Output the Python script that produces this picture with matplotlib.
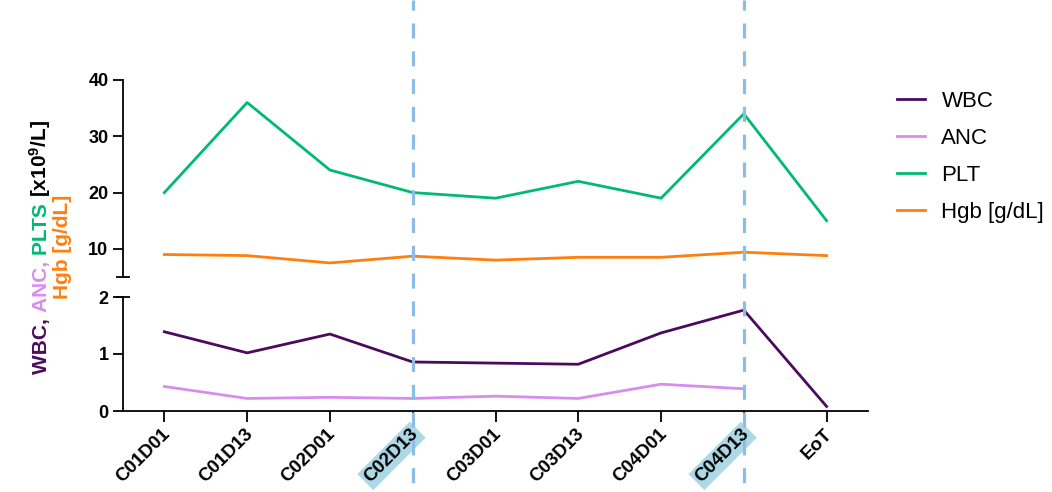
import matplotlib
matplotlib.use("Agg")
import matplotlib.pyplot as plt
import matplotlib.transforms as mtransforms
from matplotlib.lines import Line2D

plt.rcParams['font.family'] = ['Liberation Sans', 'DejaVu Sans']
plt.rcParams['mathtext.fontset'] = 'custom'
plt.rcParams['mathtext.rm'] = 'Liberation Sans:bold'
plt.rcParams['mathtext.bf'] = 'Liberation Sans:bold'
plt.rcParams['mathtext.it'] = 'Liberation Sans:bold'

visits = ["C01D01", "C01D13", "C02D01", "C02D13", "C03D01",
          "C03D13", "C04D01", "C04D13", "EoT"]
wbc = [1.39, 1.02, 1.35, 0.86, 0.84, 0.82, 1.37, 1.77, 0.08]
anc = [0.43, 0.22, 0.24, 0.22, 0.26, 0.22, 0.47, 0.39]
plt_counts = [20, 36, 24, 20, 19, 22, 19, 34, 15]
hgb = [9.0, 8.8, 7.5, 8.7, 8.0, 8.5, 8.5, 9.4, 8.8]
highlighted = ["C02D13", "C04D13"]

series_colors = {
    "WBC": "#4b0a5c",
    "ANC": "#d98cf0",
    "PLT": "#00ba72",
    "Hgb [g/dL]": "#ff7f0e",
}
marker_color = "#8bbde6"

W, H, DPI = 1052, 492, 100
fig = plt.figure(figsize=(W / DPI, H / DPI), dpi=DPI)

left_px, right_px = 123, 868
top_px, brk_top_px = 80, 277
brk_bot_px, bottom_px = 297, 411


def add_axes(y0, y1):
    return fig.add_axes([left_px / W, (H - y1) / H,
                         (right_px - left_px) / W, (y1 - y0) / H])


ax_top = add_axes(top_px, brk_top_px)
ax_bot = add_axes(brk_bot_px, bottom_px)

x = list(range(len(visits)))
lw = 2.0
for ax in (ax_top, ax_bot):
    ax.plot(x, wbc, color=series_colors["WBC"], lw=lw, label="WBC")
    ax.plot(x[:len(anc)], anc, color=series_colors["ANC"], lw=lw, label="ANC")
    ax.plot(x, plt_counts, color=series_colors["PLT"], lw=lw, label="PLT")
    ax.plot(x, hgb, color=series_colors["Hgb [g/dL]"], lw=lw, label="Hgb [g/dL]")
    ax.set_xlim(-0.5, len(visits) - 0.5)
    ax.spines[["top", "right"]].set_visible(False)
    ax.spines["left"].set_linewidth(1.3)
    ax.spines["bottom"].set_linewidth(1.3)
    ax.tick_params(axis="y", length=7, width=1.3, pad=3.5)

ax_top.set_ylim(5, 40)
ax_top.set_yticks([10, 20, 30, 40])
ax_top.set_yticklabels(["10", "20", "30", "40"], fontweight="bold", fontsize=13)
ax_top.spines["bottom"].set_visible(False)
ax_top.set_xticks([])

ax_bot.set_ylim(0, 2)
ax_bot.set_yticks([0, 1, 2])
ax_bot.set_yticklabels(["0", "1", "2"], fontweight="bold", fontsize=13)
ax_bot.set_xticks(x)
ax_bot.set_xticklabels(visits, fontweight="bold", fontsize=13.5)
ax_bot.tick_params(axis="x", length=8, width=1.3, pad=4)
shift = mtransforms.ScaledTranslation(3 / DPI, -4 / DPI, fig.dpi_scale_trans)
for lab in ax_bot.get_xticklabels():
    lab.set_rotation(45)
    lab.set_rotation_mode("anchor")
    lab.set_ha("right")
    lab.set_va("center")
    lab.set_transform(lab.get_transform() + shift)
    if lab.get_text() in highlighted:
        lab.set_bbox(dict(facecolor="#add8e6", edgecolor="none", pad=2.0))

# axis-break marks on the left spine
for ax, yy in ((ax_top, 0), (ax_bot, 1)):
    ax.plot([0], [yy], marker="_", markersize=10, mew=1.3, color="black",
            transform=ax.transAxes, clip_on=False)

# dashed markers spanning the full figure height
trans = mtransforms.blended_transform_factory(ax_bot.transData, fig.transFigure)
for name in highlighted:
    xi = visits.index(name)
    ln = Line2D([xi, xi], [1, 0], transform=trans, color=marker_color,
                lw=2.3, linestyle=(1.5, (4.7, 4.0)), zorder=10)
    fig.add_artist(ln)

# legend
handles, labels = ax_bot.get_legend_handles_labels()
fig.legend(handles, labels, loc="upper left",
           bbox_to_anchor=(877 / W, (H - 71) / H), frameon=False,
           fontsize=16, handlelength=1.25, handletextpad=0.75,
           labelspacing=0.72)

# multicoloured y-axis title, built from rotated pieces
fig.canvas.draw()
renderer = fig.canvas.get_renderer()
ident = mtransforms.IdentityTransform()


def stacked_title(pieces, x_base, y_center, fs=15):
    texts = []
    for s, c in pieces:
        t = fig.text(0, 0, s, color=c, fontsize=fs, fontweight="bold",
                     rotation=90, rotation_mode="anchor",
                     ha="left", va="baseline", transform=ident)
        texts.append(t)
    lengths = [t.get_window_extent(renderer).height for t in texts]
    y = y_center - sum(lengths) / 2
    for t, L in zip(texts, lengths):
        t.set_position((x_base, y))
        y += L


stacked_title([("WBC, ", series_colors["WBC"]),
               ("ANC, ", series_colors["ANC"]),
               ("PLTS ", series_colors["PLT"]),
               (r"[x10$^{9}$/L]", "black")],
              x_base=47, y_center=H - 247)
stacked_title([("Hgb [g/dL]", series_colors["Hgb [g/dL]"])],
              x_base=68, y_center=H - 247)

fig.savefig("out.png", dpi=DPI)
